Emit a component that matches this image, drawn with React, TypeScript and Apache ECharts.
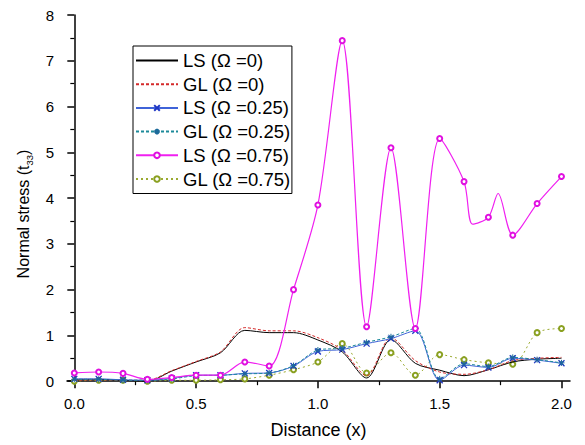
import React, { useEffect, useRef } from "react";
import * as echarts from "echarts";

const xValues = [0, 0.1, 0.2, 0.3, 0.4, 0.5, 0.6, 0.7, 0.8, 0.9, 1.0, 1.1, 1.2, 1.3, 1.4, 1.5, 1.6, 1.7, 1.8, 1.9, 2.0];
const ls0 = [0.04, 0.04, 0.02, 0.0, 0.22, 0.42, 0.62, 1.11, 1.06, 1.06, 0.9, 0.64, 0.07, 0.91, 0.39, 0.24, 0.12, 0.25, 0.42, 0.48, 0.5];
const gl0 = [0.02, 0.03, 0.02, 0.02, 0.23, 0.43, 0.64, 1.17, 1.1, 1.1, 0.95, 0.68, 0.12, 0.95, 0.45, 0.2, 0.15, 0.25, 0.45, 0.5, 0.52];
const ls025 = [0.05, 0.05, 0.03, 0.02, 0.06, 0.13, 0.13, 0.17, 0.18, 0.33, 0.65, 0.69, 0.82, 0.93, 1.1, 0.02, 0.35, 0.3, 0.5, 0.46, 0.39];
const gl025 = [0.04, 0.04, 0.02, 0.02, 0.05, 0.12, 0.13, 0.16, 0.18, 0.34, 0.68, 0.72, 0.85, 0.97, 1.15, 0.05, 0.38, 0.32, 0.52, 0.47, 0.4];
const ls075 = [0.18, 0.2, 0.17, 0.04, 0.08, 0.13, 0.13, 0.42, 0.33, 2.0, 3.85, 7.44, 1.19, 5.1, 1.15, 5.3, 4.36, 3.58, 3.19, 3.88, 4.47];
// curve turning points of LS (Ω =0.75) read between markers (no marker drawn)
const ls075CurveX = [1.635, 1.74];
const ls075CurveY = [3.43, 4.1];
const gl075 = [0.0, 0.02, 0.02, 0.0, 0.02, 0.02, 0.03, 0.05, 0.13, 0.25, 0.42, 0.82, 0.18, 0.62, 0.13, 0.58, 0.47, 0.4, 0.37, 1.06, 1.15];

const xMajorTicks = [0, 0.5, 1.0, 1.5, 2.0];
const xMinorTicks = [0.25, 0.75, 1.25, 1.75];
const yMajorTicks = [0, 1, 2, 3, 4, 5, 6, 7, 8];
const yMinorTicks = [0.5, 1.5, 2.5, 3.5, 4.5, 5.5, 6.5, 7.5];

const seriesNames = ["LS (Ω =0)", "GL (Ω =0)", "LS (Ω =0.25)", "GL (Ω =0.25)", "LS (Ω =0.75)", "GL (Ω =0.75)"];

const FONT = "'Liberation Sans', Arial, sans-serif";

const pairs = (ys: number[]) => xValues.map((x, i) => [x, ys[i]]);

const ls075Data = () => {
  const pts: any[] = xValues.map((x, i) => ({ value: [x, ls075[i]] }));
  ls075CurveX.forEach((x, i) => pts.push({ value: [x, ls075CurveY[i]], symbol: "none" }));
  pts.sort((a, b) => a.value[0] - b.value[0]);
  return pts;
};

export default function App() {
  const ref = useRef<HTMLDivElement>(null);
  useEffect(() => {
    if (!ref.current) return;
    const chart = echarts.init(ref.current, null, { renderer: "svg" });
    const xMin = -0.03;
    const xMax = 2.035;
    const yMin = -0.04;
    const yMax = 8;
    const axisLineStyle = { color: "#000", width: 1.5 };
    const hidden = { color: "transparent", borderColor: "transparent", borderWidth: 0 };
    chart.setOption({
      animation: false,
      backgroundColor: "#fff",
      textStyle: { fontFamily: FONT },
      grid: { left: 67, right: 15, top: 15, bottom: 62, containLabel: false },
      legend: {
        orient: "vertical",
        left: 133,
        top: 46,
        itemWidth: 42,
        itemHeight: 7,
        itemGap: 4.7,
        padding: [5, 1, 5, 2],
        borderColor: "#000",
        borderWidth: 1,
        backgroundColor: "#fff",
        textStyle: { fontFamily: FONT, fontSize: 18.5, color: "#000" },
        data: [
          { name: seriesNames[0], itemStyle: hidden },
          { name: seriesNames[1], itemStyle: hidden },
          { name: seriesNames[2] },
          { name: seriesNames[3] },
          { name: seriesNames[4] },
          { name: seriesNames[5] },
        ],
      },
      xAxis: [
        {
          type: "value",
          min: xMin,
          max: xMax,
          position: "bottom",
          name: "Distance (x)",
          nameLocation: "middle",
          nameGap: 38,
          nameTextStyle: { fontFamily: FONT, fontSize: 18, color: "#000" },
          axisLine: { show: true, lineStyle: axisLineStyle },
          axisTick: { show: true, inside: false, length: 7, customValues: xMajorTicks, lineStyle: { color: "#000", width: 1.5 } },
          axisLabel: {
            customValues: xMajorTicks,
            formatter: (v: number) => v.toFixed(1),
            fontFamily: FONT,
            fontSize: 15,
            color: "#000",
            margin: 13,
          },
          splitLine: { show: false },
        },
        {
          type: "value",
          min: xMin,
          max: xMax,
          position: "bottom",
          axisLine: { show: false },
          axisTick: { show: true, inside: false, length: 4, customValues: xMinorTicks, lineStyle: { color: "#000", width: 1.2 } },
          axisLabel: { show: false },
          splitLine: { show: false },
        },
      ],
      yAxis: [
        {
          type: "value",
          min: yMin,
          max: yMax,
          position: "left",
          name: "{a|Normal stress (t}{s|33}{e|)}",
          nameLocation: "middle",
          nameGap: 30,
          nameRotate: 90,
          nameTextStyle: {
            rich: {
              a: { fontFamily: FONT, fontSize: 16, color: "#000", lineHeight: 22, verticalAlign: "middle" },
              s: { fontFamily: FONT, fontSize: 9.5, color: "#000", lineHeight: 22, verticalAlign: "bottom" },
              e: { fontFamily: FONT, fontSize: 16, color: "#000", lineHeight: 22, verticalAlign: "middle", padding: [0, 30, 0, 0] },
            },
          },
          axisLine: { show: true, lineStyle: axisLineStyle },
          axisTick: { show: true, inside: false, length: 7, customValues: yMajorTicks, lineStyle: { color: "#000", width: 1.5 } },
          axisLabel: {
            customValues: yMajorTicks,
            formatter: (v: number) => String(Math.round(v)),
            fontFamily: FONT,
            fontSize: 15,
            color: "#000",
            margin: 13,
          },
          splitLine: { show: false },
        },
        {
          type: "value",
          min: yMin,
          max: yMax,
          position: "left",
          axisLine: { show: false },
          axisTick: { show: true, inside: false, length: 4, customValues: yMinorTicks, lineStyle: { color: "#000", width: 1.2 } },
          axisLabel: { show: false },
          splitLine: { show: false },
        },
      ],
      series: [
        {
          name: seriesNames[0],
          type: "line",
          data: pairs(ls0),
          smooth: 0.3,
          symbol: "none",
          lineStyle: { color: "#000", width: 1 },
          itemStyle: { color: "#000" },
          z: 3,
        },
        {
          name: seriesNames[1],
          type: "line",
          data: pairs(gl0),
          smooth: 0.3,
          symbol: "none",
          lineStyle: { color: "#d42a2a", width: 1, type: [3, 2] },
          itemStyle: { color: "#d42a2a" },
          z: 3,
        },
        {
          name: seriesNames[2],
          type: "line",
          data: pairs(ls025),
          smooth: 0.3,
          symbol: "path://M0 0L10 10M10 0L0 10",
          symbolSize: 6,
          lineStyle: { color: "#3f63d8", width: 1 },
          itemStyle: { color: "#1f36c4", borderColor: "#1f36c4", borderWidth: 1.3 },
          z: 4,
        },
        {
          name: seriesNames[3],
          type: "line",
          data: pairs(gl025),
          smooth: 0.3,
          symbol: "path://M0 5L10 5M5 0L5 10M1.5 1.5L8.5 8.5M8.5 1.5L1.5 8.5",
          symbolSize: 6,
          lineStyle: { color: "#1c8a9a", width: 1, type: [3, 2] },
          itemStyle: { color: "#1c6a9a", borderColor: "#1c6a9a", borderWidth: 1 },
          z: 4,
        },
        {
          name: seriesNames[4],
          type: "line",
          data: ls075Data(),
          smooth: 0.3,
          symbol: "emptyCircle",
          symbolSize: 5,
          lineStyle: { color: "#f020f0", width: 1.2 },
          itemStyle: { color: "#e010e0", borderWidth: 1 },
          z: 5,
        },
        {
          name: seriesNames[5],
          type: "line",
          data: pairs(gl075),
          smooth: 0.3,
          symbol: "emptyCircle",
          symbolSize: 5,
          lineStyle: { color: "#9aaa30", width: 1, type: [2, 3] },
          itemStyle: { color: "#8aa020", borderWidth: 1 },
          z: 2,
        },
      ],
    });
    return () => chart.dispose();
  }, []);
  return (
    <div
      ref={ref}
      style={{ position: "fixed", left: 0, top: 0, width: 585, height: 445, background: "#fff" }}
    />
  );
}
